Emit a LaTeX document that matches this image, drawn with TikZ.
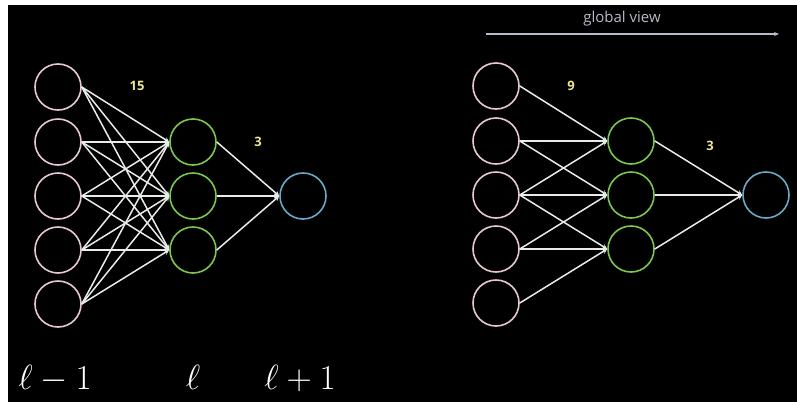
\RequirePackage{fix-cm}
\documentclass[tikz,border=0pt]{standalone}
\usepackage{fontspec}
\setsansfont{Open Sans}
\usetikzlibrary{arrows.meta}
\definecolor{pinkc}{HTML}{E8C8D8}
\definecolor{greenc}{HTML}{7CC84E}
\definecolor{bluec}{HTML}{6AAAC8}
\definecolor{linec}{HTML}{E8ECE8}
\definecolor{yellowc}{HTML}{EEE690}
\definecolor{grayc}{HTML}{BCB8C8}
\begin{document}
\begin{tikzpicture}[x=1pt,y=-1pt,
  neuron/.style={circle,line width=1.6pt,minimum size=46pt,inner sep=0pt},
  inp/.style={neuron,draw=pinkc},
  hid/.style={neuron,draw=greenc},
  outn/.style={neuron,draw=bluec},
  conn/.style={draw=linec,line width=1.5pt,-{Stealth[length=5pt,width=5pt]}},
  count/.style={text=yellowc,font=\sffamily\bfseries\fontsize{13}{15}\selectfont},
  layer/.style={text=white,font=\fontsize{35}{40}\selectfont,anchor=base,inner sep=0pt}]
\fill[white] (0,0) rectangle (797,402);
\fill[black] (8,5) rectangle (797,402);
\useasboundingbox (0,0) rectangle (797,402);

% left network
\foreach \i/\y in {1/87,2/142,3/196,4/250,5/304}
  \node[inp] (p\i) at (58,\y) {};
\foreach \i/\y in {1/142,2/196,3/250}
  \node[hid] (g\i) at (193,\y) {};
\node[outn] (o) at (303,196) {};
\foreach \i in {1,...,5}
  \foreach \j in {1,2,3}
    \draw[conn] (p\i.east) -- (g\j.west);
\foreach \j in {1,2,3}
  \draw[conn] (g\j.east) -- (o.west);
\node[count] (n15) at (137,86) {15};
\node[count] (n3a) at (258,142) {3};

\node[layer] (l1) at (55,389) {$\ell-1$};
\node[layer] (l2) at (193,389) {$\ell$};
\node[layer] (l3) at (300,389) {$\ell+1$};

% right network
\foreach \i/\y in {1/86,2/141,3/195,4/249,5/303}
  \node[inp] (q\i) at (496,\y) {};
\foreach \i/\y in {1/141,2/195,3/249}
  \node[hid] (h\i) at (631,\y) {};
\node[outn] (r) at (766,195) {};
\foreach \i/\j in {1/1,2/1,2/2,3/1,3/2,3/3,4/2,4/3,5/3}
  \draw[conn] (q\i.east) -- (h\j.west);
\foreach \j in {1,2,3}
  \draw[conn] (h\j.east) -- (r.west);
\node[count] (n9) at (571,86) {9};
\node[count] (n3b) at (710,146) {3};

% global view arrow
\coordinate (gs) at (486,34);
\coordinate (ge) at (779,34);
\draw[grayc,line width=1.3pt,-{Stealth[length=5pt,width=4pt]}] (gs) -- (ge);
\node[text=grayc,font=\sffamily\fontsize{15}{17}\selectfont] (gv) at (622,19) {global view};
\end{tikzpicture}
\end{document}
